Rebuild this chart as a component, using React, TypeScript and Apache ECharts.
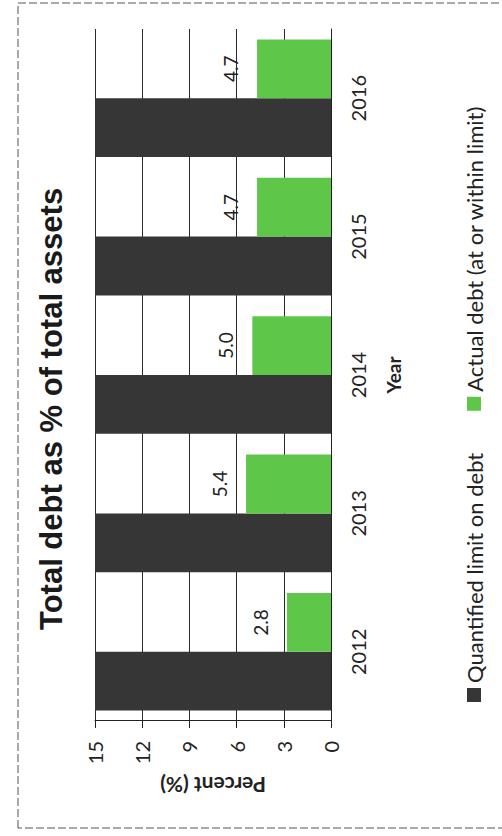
import React, { useEffect, useRef } from "react";
import * as echarts from "echarts";

const years = ["2012", "2013", "2014", "2015", "2016"];
const limitValues = [15, 15, 15, 15, 15];
const actualValues = [2.8, 5.4, 5.0, 4.7, 4.7];
const seriesNames = ["Quantified limit on debt", "Actual debt (at or within limit)"];
const titleText = "Total debt as % of total assets";

const W = 836;
const H = 502;
const FONT = "Lato, 'Liberation Sans', Arial, sans-serif";

export default function App() {
  const ref = useRef<HTMLDivElement>(null);
  useEffect(() => {
    if (!ref.current) return;
    const chart = echarts.init(ref.current, null, { renderer: "svg" });
    chart.setOption({
      animation: false,
      backgroundColor: "#ffffff",
      title: {
        text: titleText,
        left: 201,
        top: 31,
        textStyle: {
          fontFamily: "'Liberation Sans', Arial, sans-serif",
          fontWeight: "bold",
          fontSize: 31,
          color: "#1a1a1a",
        },
      },
      legend: {
        data: seriesNames,
        left: 129,
        top: 458,
        icon: "rect",
        itemWidth: 14,
        itemHeight: 14,
        itemGap: 42,
        textStyle: { fontFamily: FONT, fontSize: 22, color: "#222" },
      },
      grid: { left: 115, right: 29, top: 95, bottom: 171, containLabel: false },
      xAxis: {
        type: "category",
        data: years,
        name: "Year",
        nameLocation: "middle",
        nameGap: 53,
        nameTextStyle: { fontFamily: FONT, fontWeight: "bold", fontSize: 19, color: "#222" },
        axisLine: { show: true, lineStyle: { color: "#222", width: 1 } },
        axisTick: { show: false },
        axisLabel: { fontFamily: FONT, fontSize: 20, color: "#222", margin: 17 },
      },
      yAxis: {
        type: "value",
        min: 0,
        max: 15,
        interval: 3,
        name: "Percent (%)",
        nameLocation: "middle",
        nameRotate: 90,
        nameGap: 53,
        nameTextStyle: { fontFamily: FONT, fontWeight: "bold", fontSize: 21, color: "#222" },
        axisLine: { show: true, lineStyle: { color: "#222", width: 1 } },
        axisTick: { show: true, inside: false, length: 7, lineStyle: { color: "#222" } },
        axisLabel: { fontFamily: FONT, fontSize: 20, color: "#222", margin: 20 },
        splitLine: { show: true, lineStyle: { color: "#2a2a2a", width: 1 } },
      },
      series: [
        {
          name: seriesNames[0],
          type: "bar",
          data: limitValues,
          barGap: "0%",
          barCategoryGap: "15%",
          itemStyle: { color: "#363636" },
        },
        {
          name: seriesNames[1],
          type: "bar",
          data: actualValues,
          itemStyle: { color: "#5ec74a" },
          label: {
            show: true,
            position: "top",
            distance: 17,
            fontFamily: FONT,
            fontSize: 19,
            color: "#222",
            formatter: (p: any) => Number(p.value).toFixed(1),
          },
        },
      ],
      graphic: [
        {
          type: "rect",
          shape: { x: 8, y: 18, width: 825, height: 530 },
          style: { fill: "none", stroke: "#555", lineWidth: 1, lineDash: [8, 3] },
          silent: true,
        },
      ],
    });
    return () => chart.dispose();
  }, []);

  return (
    <div
      style={{
        position: "fixed",
        left: 0,
        top: 0,
        width: H,
        height: W,
        overflow: "hidden",
        background: "#fff",
      }}
    >
      <div
        ref={ref}
        style={{
          position: "absolute",
          left: 0,
          top: 0,
          width: W,
          height: H,
          transformOrigin: "0 0",
          transform: `translateY(${W}px) rotate(-90deg)`,
        }}
      />
    </div>
  );
}
